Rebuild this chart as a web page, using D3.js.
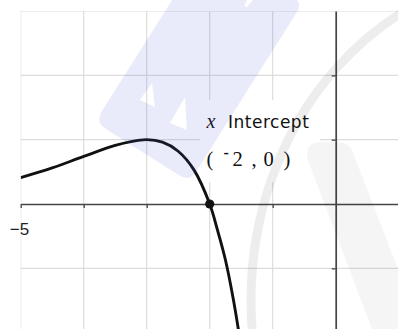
<!DOCTYPE html>
<html><head><meta charset="utf-8">
<script src="https://cdn.jsdelivr.net/npm/d3@7"></script>
<style>html,body{margin:0;padding:0;background:#fff;overflow:hidden}svg{display:block}</style>
</head><body>
<svg id="c" width="398" height="329"></svg>
<script>
// ---- data ----
const xGridValues = [-5, -4, -3, -2, -1, 1];
const yGridValues = [3, 2, 1, -1, -2];
const xTickValues = [-5, -4, -3, -2, -1];
const yTickValues = [2, 1, -1];
const xTickLabels = ["−5"];           // label shown only at x = -5
const xTickLabelAt = [-5];
const curveX = [-5, -4.5, -4, -3.5, -3.25, -3, -2.75, -2.5, -2.25, -2, -1.875, -1.75, -1.625, -1.54, -1.5];
const curveY = [0.41, 0.56, 0.74, 0.91, 0.97, 1.0, 0.96, 0.82, 0.53, 0, -0.41, -0.87, -1.48, -1.98, -2.24];
const interceptX = [-2];
const interceptY = [0];
const titleParts = ["x", "Intercept"];
const coordParts = ["(", "-", "2", ",", "0", ")"];

// ---- layout ----
const W = 398, H = 329;
const plotL = 20.7, plotT = 11, plotR = 398, plotB = 329;
const x = d3.scaleLinear().domain([-5, 0]).range([20.7, 335.7]);
const y = d3.scaleLinear().domain([0, 3]).range([204, 11]);
const svg = d3.select("#c");

svg.append("rect").attr("width", W).attr("height", H).attr("fill", "#fff");
svg.append("defs").append("clipPath").attr("id", "plot")
  .append("rect").attr("x", plotL).attr("y", plotT).attr("width", plotR - plotL).attr("height", plotB - plotT);

// grid
const grid = svg.append("g").attr("clip-path", "url(#plot)");
grid.selectAll("line.vx").data(xGridValues).join("line").attr("class", "vx")
  .attr("x1", d => x(d)).attr("x2", d => x(d)).attr("y1", plotT).attr("y2", plotB)
  .attr("stroke", "#dcdcdc").attr("stroke-width", 1.2);
grid.selectAll("line.hy").data(yGridValues).join("line").attr("class", "hy")
  .attr("y1", d => y(d)).attr("y2", d => y(d)).attr("x1", plotL).attr("x2", plotR)
  .attr("stroke", "#dcdcdc").attr("stroke-width", 1.2);

// label background box
const px = x(interceptX[0]), py = y(interceptY[0]);
svg.append("rect").attr("x", px - 9.7).attr("y", py - 104).attr("width", 120).attr("height", 82).attr("fill", "#fff");

// axes
const xAxisScale = x.copy().domain([-5, x.invert(plotR)]).range([x(-5), plotR]);
const xAxis = d3.axisBottom(xAxisScale).tickValues(xTickValues).tickSize(4).tickSizeOuter(0)
  .tickFormat(d => { const i = xTickLabelAt.indexOf(d); return i >= 0 ? xTickLabels[i] : ""; });
const gx = svg.append("g").attr("transform", `translate(0,${y(0)})`).call(xAxis);
const yAxisScale = y.copy().domain([y.invert(plotB), 3]).range([plotB, plotT]);
const yAxis = d3.axisLeft(yAxisScale).tickValues(yTickValues).tickSize(4).tickSizeOuter(0).tickFormat("");
const gy = svg.append("g").attr("transform", `translate(${x(0)},0)`).call(yAxis);
[gx, gy].forEach(g => {
  g.select(".domain").attr("stroke", "#444").attr("stroke-width", 1.7);
  g.selectAll(".tick line").attr("stroke", "#444").attr("stroke-width", 1.3);
});
gx.selectAll(".tick text").attr("font-family", "Liberation Sans, Arial, sans-serif").attr("font-size", 17)
  .attr("fill", "#1e1e2a").attr("text-anchor", "end").attr("x", 8).attr("y", 31).attr("dy", null);

// curve
const pts = curveX.map((v, i) => [v, curveY[i]]);
svg.append("path").datum(pts).attr("clip-path", "url(#plot)")
  .attr("d", d3.line().x(d => x(d[0])).y(d => y(d[1])).curve(d3.curveCatmullRom.alpha(0.5)))
  .attr("fill", "none").attr("stroke", "#111").attr("stroke-width", 2.9).attr("stroke-linejoin", "round");

// intercept point
svg.selectAll("circle.pt").data(interceptX).join("circle").attr("class", "pt")
  .attr("cx", d => x(d)).attr("cy", (d, i) => y(interceptY[i])).attr("r", 4.6).attr("fill", "#111");

// labels
const lx = px - 3.2;
const t1 = svg.append("text").attr("y", py - 75.7).attr("fill", "#111");
t1.append("tspan").attr("x", lx).attr("font-family", "Liberation Serif, Times New Roman, serif")
  .attr("font-style", "italic").attr("font-size", 20).text(titleParts[0]);
t1.append("tspan").attr("x", lx + 21.5).attr("font-family", "DejaVu Sans, sans-serif")
  .attr("font-size", 17).attr("letter-spacing", 0.5).text(titleParts[1]);

const coordOffsets = [0, 17, 26, 45, 57, 77];
const base2 = py - 38.5;
svg.append("g").selectAll("text").data(coordParts).join("text")
  .attr("x", (d, i) => lx + coordOffsets[i])
  .attr("y", (d, i) => i === 1 ? base2 - 7.5 : base2)
  .attr("font-family", "Liberation Serif, Times New Roman, serif")
  .attr("font-size", (d, i) => i === 1 ? 16 : 20.5)
  .attr("font-weight", (d, i) => i === 1 ? "bold" : "normal")
  .attr("fill", "#111").text(d => d);

// watermark overlay (decorative)
const wm = svg.append("g").attr("pointer-events", "none");
wm.append("path")
  .attr("transform", "translate(95,122) rotate(32.3)")
  .attr("d", "M0,-14 L0,-190 Q0,-203 13,-203 L52,-203 Q62,-203 64,-178 L67,-178 Q70,-212 85,-212 L100,-212 Q112,-212 112,-200 L112,-12 Q112,0 100,0 L12,0 Q0,0 0,-14 Z M27.4,-63.4 L26.3,-42.6 L42.7,-44.7 Z M62.7,-69.2 L63.9,-39.2 L82,-42.3 Z")
  .attr("fill-rule", "evenodd").attr("fill", "rgb(70,90,210)").attr("fill-opacity", 0.12);
wm.append("ellipse").attr("cx", 545).attr("cy", 300).attr("rx", 294).attr("ry", 329)
  .attr("fill", "none").attr("stroke", "#000").attr("stroke-opacity", 0.07).attr("stroke-width", 9);
wm.append("path").attr("d", "M307,158 Q305,143 320,142 L338,142 Q348,142 352,150 L445,390 L395,390 Z")
  .attr("fill", "#000").attr("fill-opacity", 0.04);
</script>
</body></html>
